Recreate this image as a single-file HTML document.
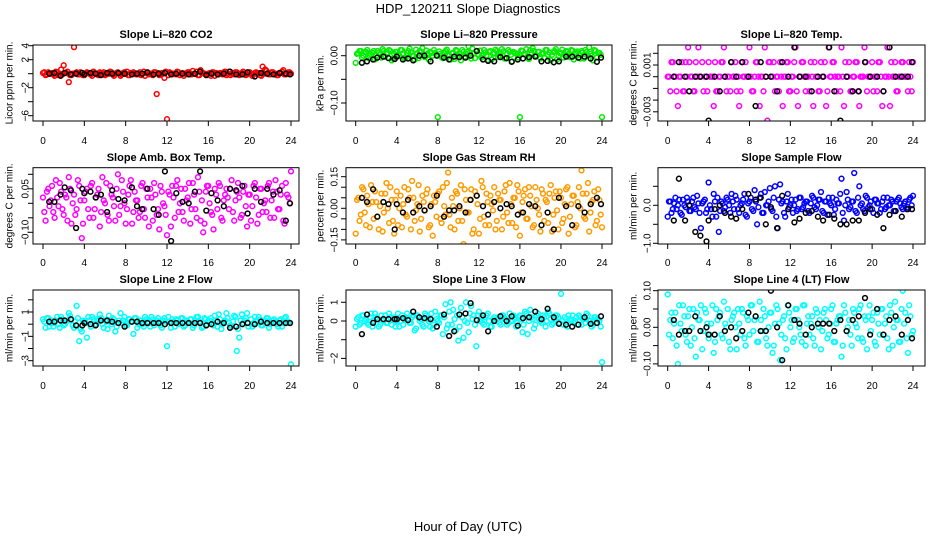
<!DOCTYPE html>
<html><head><meta charset="utf-8"><style>
html,body{margin:0;padding:0;background:#fff;}
svg{display:block;font-family:"Liberation Sans",sans-serif;}
</style></head><body>
<svg id="chart" width="936" height="540" viewBox="0 0 936 540" xmlns="http://www.w3.org/2000/svg">
<rect width="936" height="540" fill="#fff"/>
<text x="468" y="13" font-size="13" text-anchor="middle">HDP_120211  Slope Diagnostics</text>
<text x="468" y="531" font-size="13" text-anchor="middle">Hour of Day (UTC)</text>
</svg>
<script>
const blackHours=[0.6,1.1,1.7,2.1,2.7,3.2,3.8,4.0,4.6,5.1,5.6,6.2,6.7,7.3,7.9,8.6,9.1,9.6,10.1,10.7,11.2,11.8,12.4,12.9,13.5,14.1,14.7,15.2,15.8,16.3,16.9,17.5,18.1,18.7,19.3,19.8,20.5,21.1,21.7,22.3,22.9,23.5,23.9];
const colorStepHours=0.25;
const xTicks=[0,4,8,12,16,20,24];

const co2Vals=[0.1,-0.2,0.2,0,-0.1,0.3,-0.2,0.6, 1.2,0.1,-1.2,-0.2,3.8,0.2,-0.1,0.1, -0.2,0.2,0,-0.3,0.1,-0.1,0.2,0, -0.2,0.1,0.3,-0.1,0,0.2,-0.3,0.1, 0,-0.2,0.1,0.2,-0.1,0,-0.2,0.3, 0.1,-0.1,0,0.2,-2.9,-0.2,0.1,-0.6, -6.5,0.2,-0.1,0,0.3,-0.2,0.1,0, 0.2,-0.1,0.4,0,-0.2,0.5,0.1,-0.1, 0,-0.3,0.2,0.1,-0.1,0,0.2,-0.2, 0.3,0,-0.1,0.2,-0.2,0.1,0,-0.1, 0.2,-0.3,0.1,0,-0.2,1.0,0.6,0.1, -0.1,0.2,0,-0.2,0.1,0.5,-0.1,0.2, 0];
const co2Vals2=[0.2,-0.1,0,0.1,-0.3,0.2,0,-0.1, 0.1,0.3,-0.2,0,0.1,-0.1,0.2,-0.2, 0,0.1,-0.1,0.3,0,-0.2,0.1,0.2, -0.1,0,0.2,-0.3,0.1,0,-0.1,0.2, 0.3,-0.2,0,0.1,-0.1,0.2,0,-0.3, 0.1,0,-0.2,0.2,0.1,-0.1,0,0.3, -0.2,0.1,0,-0.1,0.2,0,-0.3,0.1, 0.2,-0.1,0,0.3,-0.2,0.1,0,-0.1, 0.1,0.2,-0.3,0,0.1,-0.1,0.3,0, -0.2,0.1,0.2,-0.1,0,0.3,-0.2,0.1, 0,-0.1,0.2,0.1,-0.3,0,0.4,-0.1, 0.2,0,-0.2,0.1,0.3,-0.1,0,0.2];
const co2Black=[0,0.1,-0.3,0.1,-0.1,0,0.1,-0.1,0.1,0,-0.2,0.1,0,0.1,0,-0.1,0,0,0.2,-0.1,0,0.1,-0.1,0,0,-0.1,0,0.3,-0.2,0,-0.1,0,0.3,-0.1,-0.1,0.2,-0.4,0.1,0,-0.1,0.1,0,-0.1];

const presVals=[-0.015,0.005,0.01,0,0.008,-0.005,0.003,0.01, 0,0.006,-0.004,0.01,0.005,0.012,-0.01,0.004, 0.008,0,0.012,-0.006,0.006,0.015,0,-0.008, 0.005,0.01,0.016,-0.003,0.004,0.008,0,0.006, -0.13,0.004,-0.005,0.01,0.002,-0.008,0.006,0.012, 0,-0.01,0.008,0.004,0.02,-0.006,0.005,0.01, 0.002,-0.004,0.012,0,0.008,-0.008,0.006,0.01, 0,0.014,-0.006,0.004,0.008,-0.012,0.006,0.002, -0.13,0.01,0.004,-0.004,0.012,0.016,0,0.008, -0.006,0.006,0.012,0.002,-0.01,0.008,0.014,0, 0.006,-0.004,0.01,0.004,0.012,-0.008,0.006,0.002, 0.01,-0.006,0.008,0.018,0,0.012,-0.004,0.006, -0.13];
const presVals2=[0.004,0.01,-0.004,0.008,0.012,0,0.006,-0.008, 0.01,0.003,0.014,-0.002,0.006,0.01,-0.006,0.008, 0.002,0.012,0.005,-0.004,0.01,0.007,0,0.013, -0.005,0.008,0.003,0.011,-0.008,0.006,0.012,0.002, 0.009,-0.003,0.007,0.013,0,0.005,-0.007,0.01, 0.004,0.012,-0.002,0.008,0.006,0.015,-0.005,0.003, 0.011,0,0.007,-0.009,0.01,0.004,0.013,-0.003, 0.006,0.009,-0.006,0.012,0.002,0.008,0.005,-0.004, 0.011,0.003,0.014,-0.007,0.006,0.01,0,0.008, 0.004,-0.005,0.012,0.007,0.002,0.01,-0.008,0.006, 0.013,0.001,0.008,-0.003,0.011,0.005,0.009,-0.006, 0.007,0.012,0,0.004,-0.01,0.01,0.006,0.002];
const presBlack=[-0.015,-0.012,-0.008,-0.004,-0.002,-0.005,-0.007,-0.002,-0.008,-0.006,-0.01,0,0,-0.012,0,-0.004,-0.008,-0.002,-0.003,-0.004,0,0.01,-0.008,-0.011,-0.012,-0.003,-0.005,-0.013,-0.008,-0.006,-0.003,-0.002,-0.012,-0.011,-0.014,-0.012,-0.002,-0.002,-0.004,-0.002,-0.006,-0.013,-0.004];

/* Li-820 temp values in units of 0.001 degC/min */
const tempVals=[0,-1.25,1.25,0,-2.5,0,-1.25,1.25, 2.5,0,-1.25,1.25,2.5,0,-1.25,0, 1.25,0,-2.5,-1.25,0,1.25,2.5,-1.25, 0,1.25,0,-1.25,-2.5,1.25,0,0, 2.5,-1.25,0,1.25,-2.5,0,2.5,-3.75, 1.25,0,-1.25,0,1.25,-2.5,0,1.25, -1.25,0,2.5,-2.5,0,1.25,-1.25,0, 1.25,-2.5,0,-1.25,1.25,0,-2.5,2.5, 0,1.25,-1.25,0,2.5,-2.5,0,1.25, -1.25,0,1.25,-2.5,0,2.5,-1.25,0, 1.25,0,-1.25,1.25,-2.5,0,2.5,-2.5, 0,1.25,-1.25,0,1.25,0,-1.25,0, 1.25];
const tempVals2=[0,1.25,0,-1.25,0,1.25,-1.25,0, 1.25,0,-1.25,0,0,1.25,0,-1.25, 0,0,1.25,-1.25,0,1.25,0,0, -1.25,0,1.25,0,-1.25,0,1.25,0, 0,-1.25,1.25,0,0,-1.25,0,1.25, 0,1.25,0,-1.25,0,0,1.25,-1.25, 0,1.25,-1.25,0,1.25,0,0,-1.25, 0,1.25,0,-1.25,0,1.25,-1.25,0, 1.25,0,0,-1.25,0,1.25,0,-1.25, 0,1.25,-1.25,0,0,1.25,0,0, -1.25,0,1.25,0,-1.25,0,0,1.25, 0,-1.25,0,1.25,0,0,1.25,-1.25];
const tempBlack=[0,1.25,0,-1.25,0,0,0,-3.75,0,-1.25,0,1.25,0,1.25,0,-2.5,1.25,0,0,-1.25,1.25,0,2.5,0,0,-1.25,0,0,2.5,-1.25,-3.75,0,-1.25,-1.25,1.25,0,0,-1.25,2.5,0,0,0,1.25];

const ambVals=[0.02,-0.06,0.05,0.01,-0.03,0.08,-0.01,0.04, -0.04,0.02,0.09,-0.07,0.03,-0.02,0.06,-0.12, 0.01,0.05,-0.05,0.07,-0.02,0.03,-0.08,0.09, 0,-0.04,0.06,0.02,-0.06,0.10,-0.01,0.04, -0.07,0.03,0.08,-0.03,0.01,-0.05,0.06,-0.02, 0.05,-0.08,0.02,0.07,-0.04,-0.09,0.04,-0.01, -0.11,0.03,0.06,-0.05,0.08,0,-0.03,0.05, 0.02,-0.07,0.07,-0.02,0.09,-0.06,-0.1,0.04, 0.06,-0.03,-0.09,0.03,0.07,-0.05,0.01,0.05, -0.02,0.08,-0.06,0.04,0.02,-0.04,0.06,-0.08, 0.03,-0.01,0.07,-0.07,0.05,-0.03,0.01,0.06, -0.05,0.04,0.08,-0.02,0.03,-0.06,0.07,0.02, 0.11];
const ambVals2=[-0.03,0.04,-0.01,0.06,-0.05,0.02,0.07,-0.02, 0.03,-0.06,0.05,0,-0.04,0.08,0.01,-0.07, 0.04,-0.02,0.06,-0.05,0.02,0.05,-0.03,0.01, 0.07,-0.06,0.03,-0.01,0.05,-0.04,0.08,0, -0.02,0.06,-0.07,0.04,0.01,-0.03,0.07,-0.05, 0.02,0.05,-0.06,0.03,-0.02,0.06,0,-0.04, 0.04,-0.08,0.02,0.06,-0.03,0.05,-0.06,0.01, 0.07,-0.02,0.03,-0.05,0.04,0.01,-0.07,0.06, 0,-0.04,0.05,-0.02,0.06,-0.06,0.03,0.02, 0.05,-0.03,0.01,0.07,-0.05,0.04,-0.01,0.03, -0.06,0.06,0.02,-0.04,0.05,0,-0.03,0.07, 0.01,-0.05,0.04,-0.02,0.06,-0.07,0.03,0];
const ambBlack=[0.005,0.005,0.03,0.055,0.045,-0.085,0.05,0.035,0.04,0.02,0.03,-0.03,0.045,0.015,0.01,0.055,-0.01,-0.02,0.05,-0.02,-0.04,0.11,-0.13,0.035,0.005,0,0.04,0.11,-0.025,0.035,0.01,-0.01,0.05,0.045,0.06,-0.035,0.05,0.005,0.05,0.03,0.045,-0.06,0.0];

const rhVals=[-0.12,0.05,-0.03,0.09,-0.08,0.02,0.11,-0.05, 0.03,-0.1,0.07,-0.02,0.12,-0.07,0.04,-0.12, 0.08,0,-0.09,0.1,-0.04,0.05,0.13,-0.06, 0.02,-0.11,0.06,-0.01,0.09,-0.08,-0.13,0.03, 0.07,-0.05,0.1,-0.03,0.17,-0.09,0.01,0.08, -0.06,0.11,-0.17,0.04,-0.02,0.09,-0.1,0.06, -0.12,0.13,-0.04,0.07,-0.08,0.02,0.1,-0.06, 0.04,-0.1,0.08,-0.02,0.12,-0.07,0.05,0.11, -0.13,0.03,0.09,-0.05,0.06,-0.09,0.1,0, -0.11,0.07,0.04,-0.07,0.11,-0.03,0.08,-0.1, 0.05,-0.05,0.09,-0.12,0.02,0.06,-0.08,0.1, 0.18,-0.04,0.07,-0.11,0.03,0.08,-0.06,0.04, -0.09];
const rhVals2=[0.04,-0.06,0.1,-0.02,0.06,-0.09,0.03,0.08, -0.04,0.01,-0.11,0.07,0,0.1,-0.06,0.04, -0.08,0.06,0.02,-0.03,0.09,-0.1,0.05,-0.01, 0.11,-0.05,0.03,0.07,-0.09,0.02,0.06,-0.04, 0.08,-0.07,0.01,0.12,-0.03,0.05,-0.1,0.07, 0,-0.06,0.09,-0.02,0.04,-0.12,0.08,0.02, -0.05,0.1,-0.08,0.03,0.06,-0.01,-0.1,0.07, 0.04,-0.04,0.11,-0.07,0.02,0.05,-0.09,0.08, -0.02,0.06,-0.05,0.1,0.01,-0.08,0.04,-0.03, 0.09,-0.06,0.03,0.07,-0.11,0.05,-0.01,0.08, -0.07,0.02,0.1,-0.04,0.06,-0.09,0.03,0, 0.07,-0.05,0.12,-0.02,0.04,-0.08,0.09,-0.03];
const rhBlack=[0.05,0.03,0.09,-0.04,0.03,0.02,-0.1,0.02,-0.02,0.04,-0.02,0.01,-0.01,0.01,0.06,-0.04,-0.01,-0.01,0.01,-0.02,0.04,0.06,0.01,-0.03,0.03,0,0.02,0.01,-0.03,-0.02,0.02,0.01,-0.08,-0.02,-0.1,0.05,0.01,-0.08,0.01,-0.02,0.02,0.05,0.02];

const sampleVals=[-0.3,0.1,-0.1,0.2,0,-0.2,0.15,-0.05, 0.1,-0.15,0.2,-0.1,0.05,-0.6,0.1,-0.2, 0.6,-0.1,0.3,-0.3,-0.7,0.1,-0.15,0.2, 0,0.3,-0.1,0.15,-0.2,0.05,0.3,-0.3, 0.1,-0.1,0.4,-0.5,0.2,-0.2,0.35,0, 0.45,-0.15,0.5,-0.6,0.55,0.1,-0.3,0.3, 0,-0.2,0.15,-0.1,0.2,-0.05,0.1,-0.15, 0.05,0.2,-0.1,0.15,0.35,-0.2,0.1,0.2, 0,-0.25,0.15,0.05,0.7,-0.4,0.35,-0.1, 0.1,0.85,-0.2,0.5,0.05,-0.15,0.2,0, -0.1,0.15,0.05,-0.2,0.1,-0.1,0.2,0, 0.1,-0.15,0.15,0.05,-0.1,0.1,-0.05,0.2, 0.25];
const sampleVals2=[0.1,-0.2,0.05,-0.1,0.15,-0.25,0,0.2, -0.15,0.1,-0.05,0.25,-0.2,0.05,0.15,-0.1, 0,-0.3,0.1,0.2,-0.15,0.05,-0.05,0.15, -0.2,0.1,0.25,-0.1,0,0.15,-0.25,0.05, 0.2,-0.15,0.1,-0.05,0.3,-0.2,0,0.1, -0.1,0.2,-0.3,0.15,0.05,-0.2,0.1,-0.05, 0.15,0,-0.15,0.2,-0.1,0.05,0.1,-0.2, 0.25,-0.05,0,0.15,-0.15,0.1,-0.25,0.05, 0.2,-0.1,0.05,0.3,-0.2,0,0.15,-0.05, 0.1,-0.15,0.2,0,-0.1,0.25,-0.05,0.1, -0.2,0.15,0.05,-0.1,0.2,-0.05,0,0.15, -0.15,0.1,0.2,-0.05,0.05,-0.1,0.15,0];
const sampleBlack=[-0.4,0.7,-0.4,0,-0.7,-0.8,-0.95,-0.4,-0.1,0,-0.2,-0.3,-0.35,-0.1,0.3,0.15,0.2,-0.5,-0.05,-0.6,0.25,-0.1,-0.45,-0.35,-0.2,-0.15,-0.3,-0.4,-0.25,-0.35,-0.5,-0.5,-0.4,-0.4,-0.2,-0.1,-0.25,-0.6,-0.25,-0.15,-0.3,-0.1,-0.1];

const line2Vals=[0.4,-0.3,0.5,0.1,-0.2,0.3,0,0.6, -0.1,0.2,0.9,0.4,-0.3,1.5,-1.4,-0.6, 0.2,-1.1,0.3,0.6,-0.1,0.4,0.8,0, 0.3,-0.4,0.2,0.5,-0.6,0.1,0.9,0.3, -0.1,0.4,0.2,-0.8,0.5,0,0.3,-0.2, 0.4,0.1,0.6,-0.1,0.3,0.2,-0.3,0.5, -1.8,0.2,0.4,-0.2,0.3,0.1,0.5,-0.1, 0.2,0.4,-0.3,0.3,0.6,0.1,-0.2,0.4, 0.2,0.5,-0.1,0.3,0.8,-0.4,0.2,0.9, 0.1,-0.2,0.7,-2.2,-1.1,0.8,0.3,0.9, 3.1,-0.2,0.6,0.2,0.4,-0.1,0.3,0.5, 0,0.3,0.2,-0.2,0.4,0.1,0.6,0.2, -3.3];
const line2Vals2=[0.2,0.5,-0.2,0.3,0.1,0.6,-0.3,0.4, 0,0.3,0.7,-0.1,0.2,0.5,-0.4,0.3, 0.1,0.6,-0.2,0.4,0,0.3,0.5,-0.3, 0.2,0.7,0,0.4,-0.2,0.3,0.1,0.6, -0.1,0.4,0.2,0.5,-0.3,0.3,0,0.6, 0.2,-0.2,0.4,0.1,0.5,-0.1,0.3,0.2, 0.6,-0.3,0.2,0.4,0,0.5,-0.2,0.3, 0.1,0.4,-0.1,0.6,0.2,-0.3,0.5,0, 0.3,0.1,0.7,-0.2,0.4,0,0.3,0.5, -0.1,0.2,0.6,-0.4,0.3,0.1,0.5,-0.2, 0.4,0,0.3,0.6,-0.1,0.2,0.5,-0.3, 0.1,0.4,0,0.3,-0.2,0.5,0.2,0.1];
const line2Black=[0.2,0.2,0.3,0.3,0.4,-0.1,-0.1,0.1,0,-0.1,0.3,0.3,0.2,0.1,-0.2,0.2,0.2,0.1,0.1,0.1,0.1,0,0.1,0.1,0.1,0.1,0.1,0.1,-0.1,0,0.2,0.1,-0.3,-0.2,0,0.1,0,0.2,0.1,0.1,0.1,0.1,0.1];

const line3Vals=[-0.3,0.2,-0.1,0.3,0.1,-0.2,0.4,0, 0.2,-0.3,0.3,0.1,-0.1,0.4,-0.2,0.2, 0,-0.3,0.3,0.1,0.4,-0.1,0.2,-0.5, 0.3,0,-0.2,0.4,0.1,-0.3,-0.4,0.5, 0,0.3,-0.7,0.9,-0.2,1.0,0.6,-0.5, -1.05,0.7,-0.9,1.0,-0.6,0.8,0.3,-1.35, 0.5,0.2,-0.2,0.3,0,-0.3,0.2,0.1, -0.1,0.3,0.1,-0.2,0.4,0,0.2,-0.1, 0.3,-0.6,0.5,-0.7,0.6,0.1,-0.2,0.4, 0,0.3,-0.3,0.5,0.1,-0.1,0.3,0.2, 1.45,-0.2,0.1,0.3,0,-0.1,0.2,0.3, -0.2,0.1,0.4,0,-0.3,0.2,0.1,0, -2.2];
const line3Vals2=[0.1,-0.2,0.3,0,-0.1,0.2,-0.3,0.4, 0.1,-0.2,0,0.3,-0.1,0.2,0.1,-0.3, 0.4,0,-0.2,0.2,0.1,-0.1,0.3,-0.4, 0.2,0.1,-0.3,0.3,0,0.4,-0.2,0.1, -0.1,0.3,0.2,-0.4,0.5,-0.2,0.1,0.3, -0.3,0.2,0,-0.1,0.4,0.1,-0.2,0.3, 0,-0.1,0.2,0.4,-0.3,0.1,0,0.2, -0.2,0.3,0.1,-0.1,0,0.3,-0.3,0.2, 0.1,-0.2,0.4,0,0.2,-0.4,0.3,0.1, -0.1,0.2,0,0.4,-0.2,0.1,0.3,-0.1, 0,0.2,-0.3,0.1,0.3,0,-0.2,0.2, 0.1,-0.1,0.3,0,-0.2,0.2,0.1,-0.3];
const line3Black=[-0.7,0.35,-0.1,0.1,0.1,0.1,0.1,0.1,0.15,0.05,0.5,0.2,0.15,0.1,-0.3,0.35,-0.8,-0.55,0.35,0.4,0.95,0.05,0.3,-0.55,0,0.25,0,0.25,-0.25,0.15,0.2,0.5,0.1,0.65,0.2,-0.15,-0.2,-0.3,-0.2,0.2,-0.15,-0.1,0.25];

const line4Vals=[0.09,0.02,-0.03,0.04,-0.1,0.01,0.06,-0.02, 0.03,-0.05,0.05,-0.08,0.02,0.06,-0.01,0.04, -0.03,0.01,-0.07,0.05,0.03,-0.02,0.07,0, -0.04,0.02,0.04,-0.06,0.01,0.05,-0.03,0.03, -0.02,0.06,0.02,-0.04,0.07,-0.01,0.03,-0.05, 0.04,-0.07,0.01,0.05,-0.09,0.02,-0.03,0.06, 0,-0.04,0.05,0.02,-0.02,0.06,-0.05,0.03, 0.01,-0.03,0.05,0,-0.06,0.04,0.02,-0.02, 0.05,-0.04,0.01,0.03,-0.08,0.06,-0.01,0.02, -0.05,0.04,0,0.05,-0.03,0.03,-0.06,0.06, 0.02,-0.04,0.04,-0.02,0.05,0.01,-0.03,0.06, -0.05,0.07,0.02,-0.04,0.1,0.04,-0.07,0.03, -0.01];
const line4Vals2=[-0.02,0.04,0.01,-0.05,0.06,-0.01,0.03,-0.04, 0.05,0,-0.03,0.04,0.02,-0.06,0.05,0.01, -0.02,0.06,-0.04,0.02,0.04,-0.03,0.01,0.05, -0.06,0.03,0,0.05,-0.02,0.04,-0.05,0.02, 0.06,-0.01,0.03,-0.04,0.02,0.05,-0.03,0, 0.04,-0.05,0.06,0.01,-0.02,0.03,-0.06,0.04, 0.02,-0.03,0.05,0,-0.04,0.06,0.01,-0.02, 0.03,-0.05,0.04,0.02,-0.01,0.05,-0.03,0.01, 0.06,-0.04,0.02,0.03,-0.05,0.04,0,-0.02, 0.05,0.01,-0.03,0.06,-0.04,0.02,0.03,-0.01, 0.04,-0.05,0.01,0.05,-0.02,0.03,-0.06,0.04, 0,0.02,-0.04,0.05,0.01,-0.03,0.06,-0.02];
const line4Black=[0.02,-0.02,-0.01,-0.01,0.03,-0.01,0,-0.02,-0.02,0.03,-0.01,0,-0.03,-0.01,0.04,0.03,-0.01,-0.01,0.1,0,-0.09,0.06,0.02,0.01,-0.02,0,0.01,0.01,0.01,-0.01,0.02,-0.01,0.02,0.03,0.08,-0.02,0.05,-0.02,0.02,0.03,-0.02,0.02,-0.03];

const panels=[
 {name:'co2',title:'Slope Li\u2013820 CO2',ylab:'Licor ppm per min.',col:0,row:0,color:'#ff0000',vals:co2Vals,vals2:co2Vals2,blk:co2Black,
  yref:[4,45.7,-6,115.7],yticks:[4,2,0,-2,-4,-6],ylabels:{'4':'4','2':'2','-2':'\u22122','-6':'\u22126'}},
 {name:'pressure',title:'Slope Li\u2013820 Pressure',ylab:'kPa per min.',col:1,row:0,color:'#00ee00',vals:presVals,vals2:presVals2,blk:presBlack,
  yref:[0,55.7,-0.1,103],yticks:[0,-0.05,-0.1],ylabels:{'0':'0.00','-0.1':'\u22120.10'}},
 {name:'li820-temp',title:'Slope Li\u2013820 Temp.',ylab:'degrees C per min.',col:2,row:0,color:'#ff00ff',vals:tempVals,vals2:tempVals2,blk:tempBlack,
  yref:[0,76.7,1,65],yticks:[2,1,0,-1,-2,-3],ylabels:{'1':'0.001','-3':'\u22120.003'}},
 {name:'amb-box-temp',title:'Slope Amb. Box Temp.',ylab:'degrees C per min.',col:0,row:1,color:'#ff00ff',vals:ambVals,vals2:ambVals2,blk:ambBlack,
  yref:[0,203.3,0.05,188.8],yticks:[0.1,0.05,0,-0.05,-0.1],ylabels:{'0.05':'0.05','-0.1':'\u22120.10'}},
 {name:'gas-stream-rh',title:'Slope Gas Stream RH',ylab:'percent per min.',col:1,row:1,color:'#ff9a00',vals:rhVals,vals2:rhVals2,blk:rhBlack,
  yref:[0,208.3,0.15,176.7],yticks:[0.15,0.1,0.05,0,-0.05,-0.1,-0.15],ylabels:{'0.15':'0.15','0':'0.00','-0.15':'\u22120.15'}},
 {name:'sample-flow',title:'Slope Sample Flow',ylab:'ml/min per min.',col:2,row:1,color:'#0000ff',vals:sampleVals,vals2:sampleVals2,blk:sampleBlack,
  yref:[0,205.3,-1,243.3],yticks:[0.5,0,-0.5,-1],ylabels:{'0':'0.0','-1':'\u22121.0'}},
 {name:'line2-flow',title:'Slope Line 2 Flow',ylab:'ml/min per min.',col:0,row:2,color:'#00ffff',vals:line2Vals,vals2:line2Vals2,blk:line2Black,
  yref:[1,312,-3,360.7],yticks:[2,1,0,-1,-2,-3],ylabels:{'1':'1','-1':'\u22121','-3':'\u22123'}},
 {name:'line3-flow',title:'Slope Line 3 Flow',ylab:'ml/min per min.',col:1,row:2,color:'#00ffff',vals:line3Vals,vals2:line3Vals2,blk:line3Black,
  yref:[0,321,1,302.3],yticks:[1,0,-1,-2],ylabels:{'1':'1','0':'0','-2':'\u22122'}},
 {name:'line4-flow',title:'Slope Line 4 (LT) Flow',ylab:'ml/min per min.',col:2,row:2,color:'#00ffff',vals:line4Vals,vals2:line4Vals2,blk:line4Black,
  yref:[0,327.3,0.1,290.7],yticks:[0.1,0.05,0,-0.05,-0.1],ylabels:{'0.1':'0.10','0':'0.00','-0.1':'\u22120.10'}}
];
const colGeom=[{l:33,r:299,x0:43,x24:291,tl:25,al:9},{l:346,r:612,x0:355.7,x24:602,tl:334,al:320},{l:658,r:925,x0:667.7,x24:913,tl:647,al:633}];
const rowGeom=[{t:45,b:121,title:34,xl:141},{t:167.7,b:244,title:157,xl:263},{t:290,b:366,title:279,xl:386}];

const NS='http://www.w3.org/2000/svg';
const svg=document.getElementById('chart');
function mk(tag,attrs,parent){const e=document.createElementNS(NS,tag);for(const k in attrs)e.setAttribute(k,attrs[k]);(parent||svg).appendChild(e);return e;}

panels.forEach(p=>{
  const cg=colGeom[p.col], rg=rowGeom[p.row];
  const xs=h=>cg.x0+(cg.x24-cg.x0)*h/24;
  const ys=v=>p.yref[1]+(v-p.yref[0])*(p.yref[3]-p.yref[1])/(p.yref[2]-p.yref[0]);
  const g=mk('g',{});
  
  
  const t=mk('text',{x:(cg.l+cg.r)/2,y:rg.title+4,'font-size':11,'font-weight':'bold','text-anchor':'middle'},g);
  t.textContent=p.title;
  
  
  const yl=mk('text',{x:cg.al,y:(rg.t+rg.b)/2,'font-size':10,'text-anchor':'middle',transform:`rotate(-90 ${cg.al} ${(rg.t+rg.b)/2})`,dy:'0.35em'},g);
  yl.textContent=p.ylab;
  
  
  const clip=mk('clipPath',{id:'clip-'+p.name},g);
  mk('rect',{x:cg.l,y:rg.t,width:cg.r-cg.l,height:rg.b-rg.t},clip);
  const pts=mk('g',{'clip-path':`url(#clip-${p.name})`,fill:'none','stroke-width':1.5},g);
  
  
  p.vals2.forEach((v,i)=>{
    const c=mk('circle',{cx:xs((i+0.5)*colorStepHours).toFixed(1),cy:ys(v).toFixed(1),r:2.4,stroke:p.color},pts);
    
    
  });
  p.vals.forEach((v,i)=>{
    const c=mk('circle',{cx:xs(i*colorStepHours).toFixed(1),cy:ys(v).toFixed(1),r:2.4,stroke:p.color},pts);
    
    
  });
  p.blk.forEach((v,i)=>{
    const c=mk('circle',{cx:xs(blackHours[i]).toFixed(1),cy:ys(v).toFixed(1),r:2.4,stroke:'#000'},pts);
    
    
  });
  const box=mk('rect',{x:cg.l,y:rg.t,width:cg.r-cg.l,height:rg.b-rg.t,fill:'none',stroke:'#000','stroke-width':1},g);
  
  
  const xa=mk('g',{},g);
  
  
  xTicks.forEach(h=>{
    mk('line',{x1:xs(h),x2:xs(h),y1:rg.b,y2:rg.b+5,stroke:'#000'},xa);
    const tl=mk('text',{x:xs(h),y:rg.xl+3,'font-size':10,'text-anchor':'middle'},xa);
    tl.textContent=String(h);
  });
  const ya=mk('g',{},g);
  
  
  p.yticks.forEach(v=>{
    const y=ys(v);
    mk('line',{x1:cg.l-5,x2:cg.l,y1:y,y2:y,stroke:'#000'},ya);
    const lab=p.ylabels[String(v)];
    if(lab){
      const tl=mk('text',{x:cg.tl,y:y,'font-size':10,'text-anchor':'middle',dy:'0.35em',transform:`rotate(-90 ${cg.tl} ${y})`},ya);
      tl.textContent=lab;
    }
  });
});
</script>
</body></html>
